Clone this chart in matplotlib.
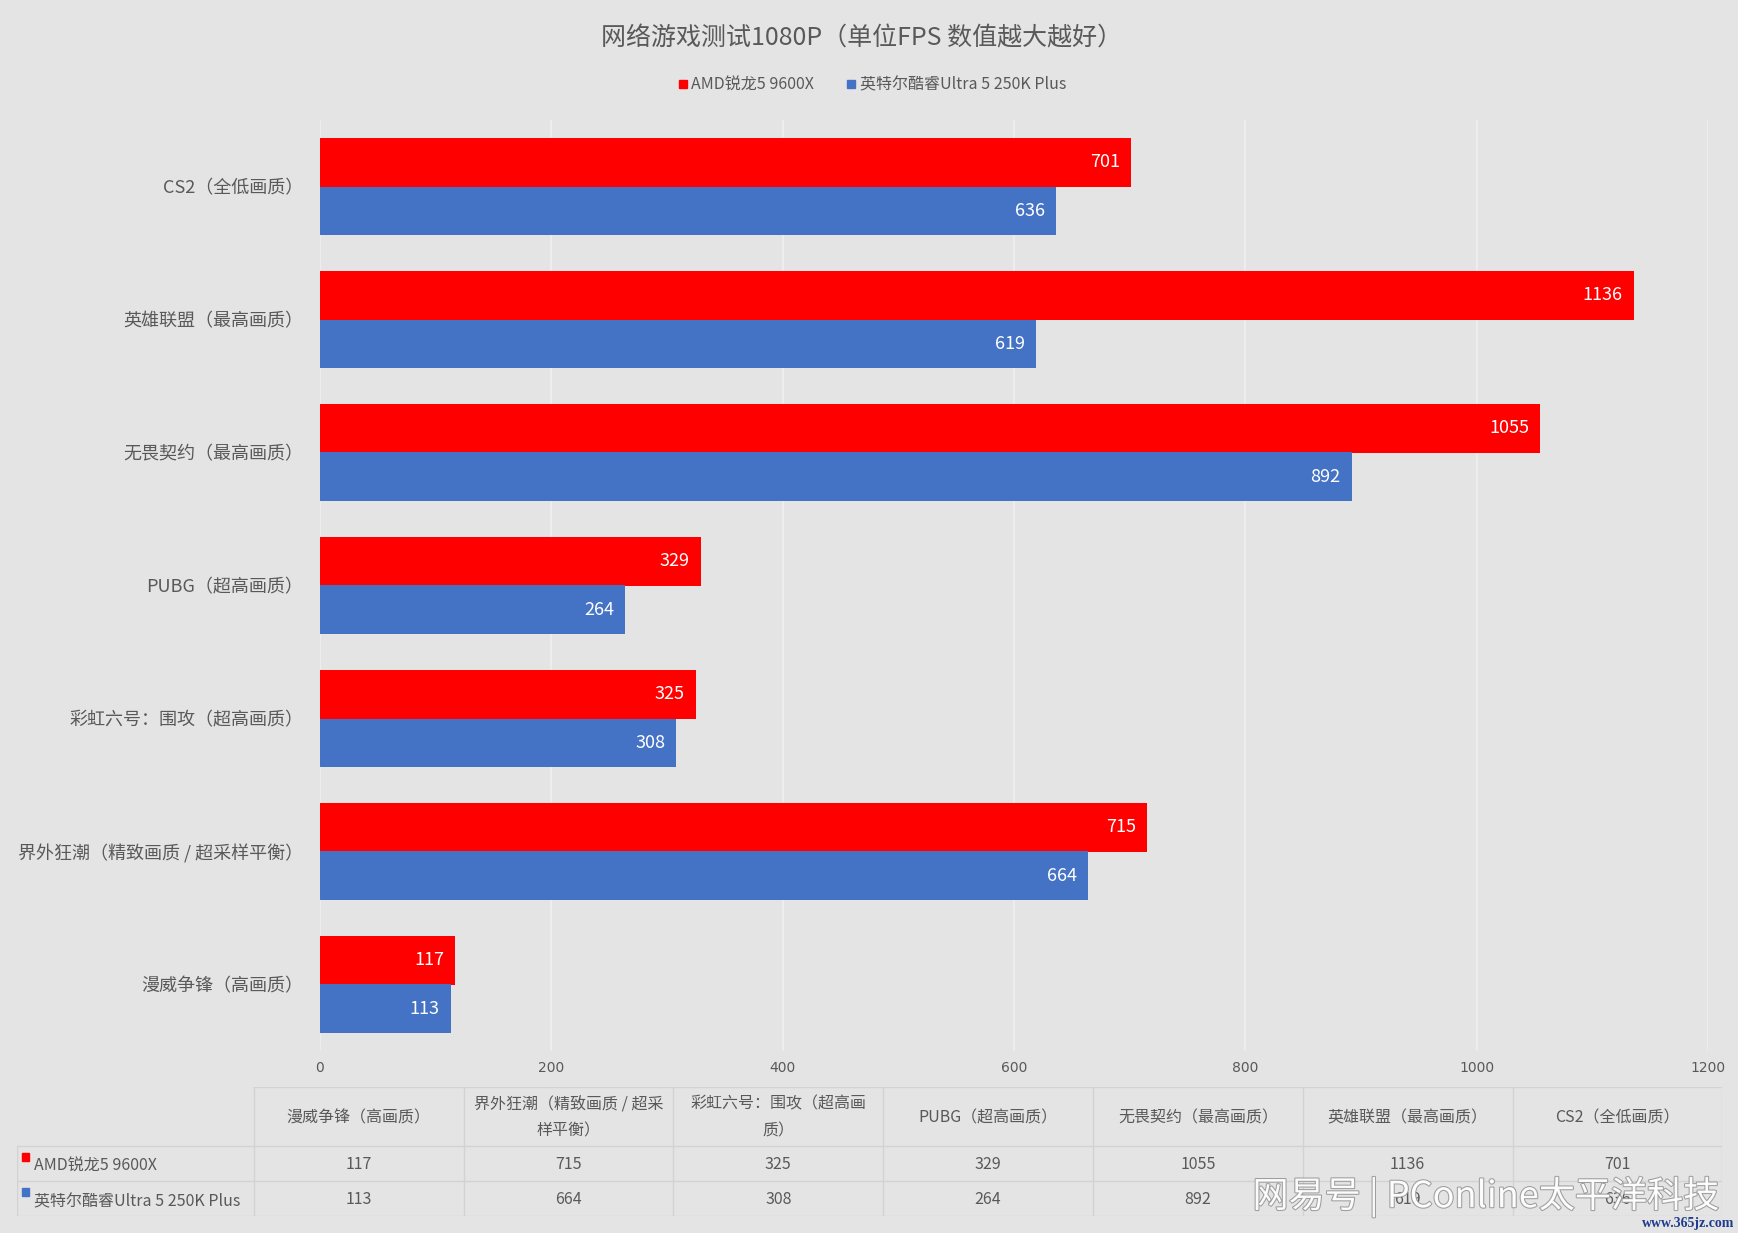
import matplotlib
matplotlib.use("Agg")
import matplotlib.pyplot as plt
from matplotlib.lines import Line2D
import matplotlib.patheffects as pe

plt.rcParams['font.family'] = ['Noto Sans CJK SC', 'DejaVu Sans']

# ---------------- data ----------------
categories = ["漫威争锋（高画质）", "界外狂潮（精致画质 / 超采样平衡）", "彩虹六号：围攻（超高画质）",
              "PUBG（超高画质）", "无畏契约（最高画质）", "英雄联盟（最高画质）", "CS2（全低画质）"]
table_headers = ["漫威争锋（高画质）", "界外狂潮（精致画质 / 超采\n样平衡）", "彩虹六号：围攻（超高画\n质）",
                 "PUBG（超高画质）", "无畏契约（最高画质）", "英雄联盟（最高画质）", "CS2（全低画质）"]
series_names = ["AMD锐龙5 9600X", "英特尔酷睿Ultra 5 250K Plus"]
amd_values = [117, 715, 325, 329, 1055, 1136, 701]
intel_values = [113, 664, 308, 264, 892, 619, 636]
x_ticks = [0, 200, 400, 600, 800, 1000, 1200]
title = "网络游戏测试1080P（单位FPS 数值越大越好）"

colors = ["#FF0000", "#4472C4"]
bg = "#E4E4E4"
txt = "#595959"

W, H = 1738, 1233
fig = plt.figure(figsize=(W / 100, H / 100), dpi=100, facecolor=bg)

# ---------------- bar chart ----------------
ax = fig.add_axes([320 / W, 1 - 1051 / H, (1708 - 320) / W, (1051 - 120) / H], facecolor=bg)
n = len(categories)
pos = list(range(n))
bh = 0.367
c1 = ax.barh([p + bh / 2 for p in pos], amd_values, height=bh, color=colors[0], label=series_names[0], zorder=3)
c2 = ax.barh([p - bh / 2 for p in pos], intel_values, height=bh, color=colors[1], label=series_names[1], zorder=3)
for cont in (c1, c2):
    anns = ax.bar_label(cont, padding=-8, color="white", fontsize=13,
                        family=['Noto Sans CJK SC', 'DejaVu Sans'])
    for a in anns:
        a.set_ha('right')

ax.set_ylim(-0.5, n - 0.5)
ax.set_xlim(0, 1200)
ax.set_yticks(pos)
ax.set_yticklabels(categories, fontsize=13, color=txt)
ax.set_xticks(x_ticks)
ax.set_xticklabels([str(t) for t in x_ticks], fontsize=10, color=txt,
                   family=['Liberation Sans Narrow', 'DejaVu Sans'])
ax.tick_params(axis='y', length=0, pad=12)
ax.tick_params(axis='x', length=0, pad=7)
ax.grid(axis='x', color="#EFEFEF", linewidth=1.2, zorder=0)
ax.set_axisbelow(True)
for s in ax.spines.values():
    s.set_visible(False)

# ---------------- title & legend ----------------
fig.text(862 / W, 1 - 38 / H, title, ha='center', va='center', fontsize=18, color=txt)
handles = [Line2D([], [], marker='s', linestyle='none', markersize=5.5, color=c) for c in colors]
fig.legend(handles, series_names, loc='center', bbox_to_anchor=(872 / W, 1 - 85 / H), ncol=2,
           frameon=False, fontsize=11.5, labelcolor=txt, handlelength=0.6, handletextpad=0.25,
           columnspacing=2.0)

# ---------------- data table ----------------
tx0, tx1 = 16.6, 1722.4
ty0, ty1 = 1087, 1216
tax = fig.add_axes([tx0 / W, 1 - ty1 / H, (tx1 - tx0) / W, (ty1 - ty0) / H])
tax.set_xlim(tx0, tx1)
tax.set_ylim(ty1, ty0)
tax.axis('off')
col_w = (tx1 - 253.8) / len(table_headers)
rows_y = [ty0, 1146, 1181, ty1]
line_c = "#D2D2D2"
tax.plot([253.8, tx1], [ty0, ty0], color=line_c, lw=1)
for yy in rows_y[1:]:
    tax.plot([tx0, tx1], [yy, yy], color=line_c, lw=1)
tax.plot([tx0, tx0], [rows_y[1], ty1], color=line_c, lw=1)
for j in range(len(table_headers) + 1):
    xx = 253.8 + j * col_w
    tax.plot([xx, xx], [ty0, ty1], color=line_c, lw=1)

for j, h in enumerate(table_headers):
    xc = 253.8 + (j + 0.5) * col_w
    tax.text(xc, (rows_y[0] + rows_y[1]) / 2 + 1, h, ha='center', va='center', fontsize=11.5,
             color=txt, linespacing=1.75)
for i, (name, vals) in enumerate(zip(series_names, [amd_values, intel_values])):
    yc = (rows_y[i + 1] + rows_y[i + 2]) / 2
    tax.add_patch(plt.Rectangle((22, rows_y[i + 1] + 7), 7, 8, color=colors[i], clip_on=False))
    tax.text(34, yc + 3, name, ha='left', va='center', fontsize=11.5, color=txt)
    for j, v in enumerate(vals):
        xc = 253.8 + (j + 0.5) * col_w
        tax.text(xc, yc + 1, str(v), ha='center', va='center', fontsize=11.5, color=txt)

# ---------------- watermark ----------------
fig.text(1720 / W, 1 - 1197 / H, "网易号 | PConline太平洋科技", ha='right', va='center', fontsize=26,
         color="white", alpha=0.95,
         path_effects=[pe.withStroke(linewidth=1.5, foreground="#9A9A9A")])
fig.text(1734 / W, 1 - 1224 / H, "www.365jz.com", ha='right', va='center', fontsize=10,
         color="#1F3C8C", family=['Liberation Serif', 'DejaVu Serif'], weight='bold')

fig.savefig("out.png", dpi=100, facecolor=bg)
